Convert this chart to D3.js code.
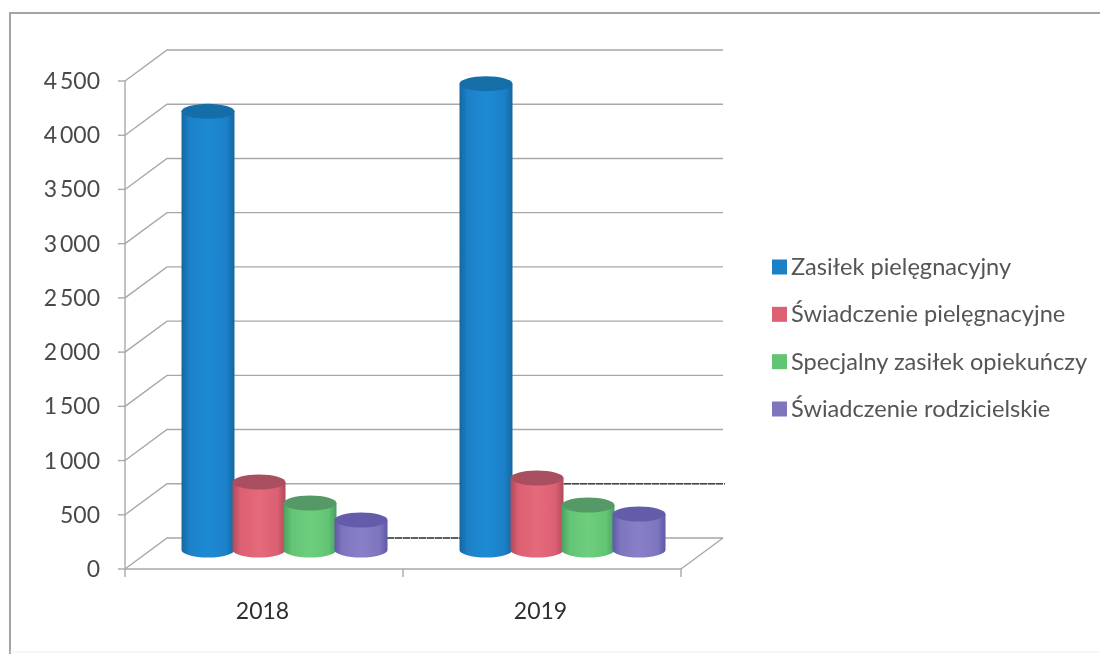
<!DOCTYPE html>
<html>
<head>
<meta charset="utf-8">
<script src="https://cdn.jsdelivr.net/npm/d3@7"></script>
<style>
  html, body { margin: 0; padding: 0; background: #fff; }
  svg { display: block; font-family: Lato, "Open Sans", sans-serif; }
</style>
</head>
<body>
<div id="chart"></div>
<script>
// values
const years = ['2018', '2019'];
const seriesNames = ['Zasiłek pielęgnacyjny', 'Świadczenie pielęgnacyjne', 'Specjalny zasiłek opiekuńczy', 'Świadczenie rodzicielskie'];
const values2018 = [4045, 627, 433, 277];
const values2019 = [4300, 664, 415, 332];
const valueTicks = [0, 500, 1000, 1500, 2000, 2500, 3000, 3500, 4000, 4500];
const tickLabels = ['0', '500', '1\u2009000', '1\u2009500', '2\u2009000', '2\u2009500', '3\u2009000', '3\u2009500', '4\u2009000', '4\u2009500'];
const colors = ['#1b80c8', '#dc5f72', '#62c474', '#7d76bf'];
const darkColors = ['#15689f', '#b04a5c', '#4d9f60', '#6058a6'];
const topColors = ['#176ea9', '#a9505f', '#549a66', '#625cab'];
const lightColors = ['#1f8bd4', '#e56a7b', '#6dcf7e', '#8780c8'];

const width = 1100;
const height = 654;

const svg = d3.select('#chart')
    .append('svg')
    .attr('width', width)
    .attr('height', height);

// Slight softening, the original is a scan
svg.append('defs').append('filter')
    .attr('id', 'scan')
    .append('feGaussianBlur')
    .attr('stdDeviation', 0.55);

const root = svg.append('g').attr('filter', 'url(#scan)');

// Outer frame, only top and left survive the crop
root.append('path')
    .attr('d', 'M10,654 L10,13 L1100,13')
    .attr('fill', 'none')
    .attr('stroke', '#a4a4a4')
    .attr('stroke-width', 2);
root.append('line')
    .attr('x1', 10).attr('x2', 1100)
    .attr('y1', 652).attr('y2', 652)
    .attr('stroke', '#eeeeee');

// Scales
const yScale = d3.scaleLinear().domain([0, 4500]).range([569, 81]);
const xScale = d3.scaleBand().domain(years).range([125, 681]);
const barScale = d3.scaleBand().domain(seriesNames).range([-102, 102]);

// Depth of the 3D box
const depthX = 42;
const depthY = -31;

const grid = root.append('g')
    .attr('fill', 'none')
    .attr('stroke', '#a8a8a8')
    .attr('stroke-width', 1.4);

// Side wall diagonals and back wall gridlines
valueTicks.forEach(t => {
    const y = yScale(t);
    grid.append('path')
        .attr('d', d3.line()([[125, y], [125 + depthX, y + depthY], [681 + depthX, y + depthY]]));
    grid.append('line')
        .attr('x1', 118).attr('x2', 125)
        .attr('y1', y).attr('y2', y);
});

// Floor right edge
grid.append('line')
    .attr('x1', 681).attr('y1', yScale(0))
    .attr('x2', 681 + depthX).attr('y2', yScale(0) + depthY);

// Axis lines
grid.append('line')
    .attr('x1', 125).attr('x2', 125)
    .attr('y1', yScale(4500)).attr('y2', yScale(0));
grid.append('line')
    .attr('x1', 125).attr('x2', 681)
    .attr('y1', yScale(0)).attr('y2', yScale(0));
[125, 403, 681].forEach(x => {
    grid.append('line')
        .attr('x1', x).attr('x2', x)
        .attr('y1', yScale(0)).attr('y2', yScale(0) + 8);
});

// Darker scanned stretches of two gridlines
const dark = root.append('g')
    .attr('stroke', '#444')
    .attr('stroke-width', 1.4)
    .attr('stroke-dasharray', '7 1');
dark.append('line')
    .attr('x1', 387).attr('x2', 460)
    .attr('y1', yScale(0) + depthY).attr('y2', yScale(0) + depthY);
dark.append('line')
    .attr('x1', 564).attr('x2', 725)
    .attr('y1', yScale(500) + depthY).attr('y2', yScale(500) + depthY);

// Horizontal gradient per series
const defs = svg.select('defs');
seriesNames.forEach((name, i) => {
    const grad = defs.append('linearGradient')
        .attr('id', 'cyl' + i)
        .attr('x1', 0).attr('x2', 1).attr('y1', 0).attr('y2', 0);
    grad.append('stop').attr('offset', '0%').attr('stop-color', darkColors[i]);
    grad.append('stop').attr('offset', '15%').attr('stop-color', colors[i]);
    grad.append('stop').attr('offset', '50%').attr('stop-color', lightColors[i]);
    grad.append('stop').attr('offset', '85%').attr('stop-color', colors[i]);
    grad.append('stop').attr('offset', '100%').attr('stop-color', darkColors[i]);
});

// Cylinders, base centre sits partway into the box depth
const barDepth = 19;
const rx = 26.5;
const ry = 7.5;
const bars = root.append('g');

function drawYear(year, values) {
    values.forEach((v, i) => {
        const cx = xScale(year) + xScale.bandwidth() / 2 + barScale(seriesNames[i]) + barScale.bandwidth() / 2 + barDepth + 1.5;
        const yBase = yScale(0) - barDepth;
        const yTop = yBase - (yScale(0) - yScale(v));
        const g = bars.append('g');
        g.append('path')
            .attr('d', `M${cx - rx},${yTop} L${cx - rx},${yBase} A${rx},${ry} 0 0 0 ${cx + rx},${yBase} L${cx + rx},${yTop} Z`)
            .attr('fill', `url(#cyl${i})`);
        g.append('ellipse')
            .attr('cx', cx).attr('cy', yTop)
            .attr('rx', rx).attr('ry', ry)
            .attr('fill', topColors[i]);
    });
}
drawYear('2018', values2018);
drawYear('2019', values2019);

// Axis labels
root.append('g').selectAll('text')
    .data(valueTicks)
    .enter().append('text')
    .attr('x', 100)
    .attr('y', d => yScale(d) + 8)
    .attr('text-anchor', 'end')
    .attr('font-size', 23)
    .attr('fill', '#4a4a4a')
    .text((d, i) => tickLabels[i]);

root.append('g').selectAll('text')
    .data(years)
    .enter().append('text')
    .attr('x', d => xScale(d) + xScale.bandwidth() / 2 - 1.5)
    .attr('y', 619)
    .attr('text-anchor', 'middle')
    .attr('font-size', 23)
    .attr('fill', '#2f2f2f')
    .text(d => d);

// Legend
const legendY = d3.scalePoint().domain(seriesNames).range([267, 409]);
const legend = root.append('g').selectAll('g')
    .data(seriesNames)
    .enter().append('g')
    .attr('transform', d => `translate(772,${legendY(d)})`);
legend.append('rect')
    .attr('y', -7.5).attr('width', 15).attr('height', 15)
    .attr('fill', (d, i) => colors[i]);
legend.append('text')
    .attr('x', 19).attr('y', 8)
    .attr('font-size', 23.6)
    .attr('fill', '#555')
    .text(d => d);
</script>
</body>
</html>
